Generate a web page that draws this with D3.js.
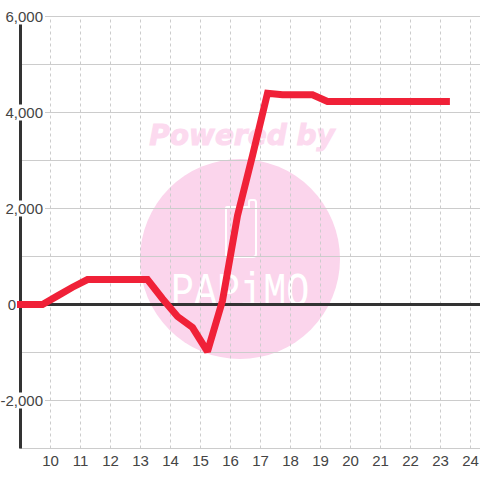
<!DOCTYPE html>
<html>
<head>
<meta charset="utf-8">
<script src="https://d3js.org/d3.v7.min.js"></script>
<style>
html, body { margin: 0; padding: 0; background: #fff; }
svg { display: block; }
text { font-family: "Liberation Sans", Arial, sans-serif; }
</style>
</head>
<body>
<svg id="chartSVG" width="480" height="480"></svg>
<script>
// hours on the x axis, and the value at each point of the line
const hours = [8.9, 9.75, 10.25, 10.75, 11.25, 11.75, 12.25, 12.75, 13.25, 13.75, 14.25, 14.75, 15.25, 15.75,
               16.25, 16.75, 17.25, 17.75, 18.25, 18.75, 19.25, 19.75, 20.25, 20.75, 21.25, 21.75, 22.25, 22.75, 23.33];
const values = [0, 0, 180, 360, 520, 520, 520, 520, 520, 120, -250, -480, -980, 80,
                1850, 3100, 4400, 4370, 4370, 4370, 4230, 4230, 4230, 4230, 4230, 4230, 4230, 4230, 4230];
const hourTicks = [10, 11, 12, 13, 14, 15, 16, 17, 18, 19, 20, 21, 22, 23, 24];
const gridTicks = [-3000, -2000, -1000, 0, 1000, 2000, 3000, 4000, 5000, 6000];
const labelTicks = [-2000, 0, 2000, 4000, 6000];

const svg = d3.select("#chartSVG");
const width = 480;
const textColour = "#444";

const xScale = d3.scaleLinear().domain([9, 24]).range([20, 470]);
const yScale = d3.scaleLinear().domain([-3000, 6000]).range([448.5, 16.5]);

// plain hyphen for negative labels, not the d3 default minus sign
const labelFormat = d3.formatLocale({
    decimal: ".", thousands: ",", grouping: [3], currency: ["", ""], minus: "-"
}).format(",");

// watermark sits under everything else
const mark = svg.append("g").attr("id", "watermark");
mark.append("circle")
    .attr("cx", 240).attr("cy", 259).attr("r", 100)
    .attr("fill", "#fbd5ec");
mark.append("text")
    .text("Powered by")
    .attr("x", 242).attr("y", 145)
    .attr("text-anchor", "middle")
    .attr("fill", "#fcdaef")
    .attr("stroke", "#fcdaef")
    .attr("stroke-width", 1)
    .style("font-family", "DejaVu Sans")
    .style("font-weight", "bold")
    .style("font-style", "italic")
    .style("font-size", "28px");
mark.append("path")
    .attr("d", "M226 208 Q226 207 227 207 L249 207 L249 202 Q249 200 251 200 L254 200 Q256 200 256 203 L256 254 Q256 257 253 257 L229 257 Q226 257 226 254 Z")
    .attr("fill", "none")
    .attr("stroke", "#fff")
    .attr("stroke-width", 2);
mark.append("text")
    .text("PAPiMO")
    .attr("transform", "translate(171,306) scale(0.8,1)")
    .attr("fill", "#fff")
    .style("font-family", "Liberation Mono")
    .style("font-size", "48px");

// vertical dashed grid
const xAxis = d3.axisBottom(xScale)
    .tickValues(hourTicks)
    .tickSize(-432)
    .tickPadding(7)
    .tickFormat(d3.format("d"));
const xGroup = svg.append("g")
    .attr("transform", "translate(0,448.5)")
    .call(xAxis);
xGroup.select(".domain").remove();
xGroup.selectAll("line")
    .attr("stroke", "#ccc")
    .attr("stroke-dasharray", "3,3");
xGroup.selectAll("text")
    .attr("fill", textColour)
    .style("font-size", "15px");

// horizontal grid
svg.append("g").selectAll("line")
    .data(gridTicks)
    .join("line")
    .attr("x1", 20).attr("x2", width)
    .attr("y1", d => yScale(d)).attr("y2", d => yScale(d))
    .attr("stroke", "#ccc");

// zero line and y axis line
svg.append("line")
    .attr("x1", 20).attr("x2", width)
    .attr("y1", yScale(0)).attr("y2", yScale(0))
    .attr("stroke", "#333").attr("stroke-width", 3);
svg.append("line")
    .attr("x1", 20.5).attr("x2", 20.5)
    .attr("y1", yScale(6000)).attr("y2", yScale(-3000))
    .attr("stroke", "#333").attr("stroke-width", 3);

// y labels have a white box behind them that cuts the axis line
const yLabels = svg.append("g").selectAll("g")
    .data(labelTicks)
    .join("g")
    .attr("transform", d => "translate(0," + yScale(d) + ")");
yLabels.filter(d => d !== 0).append("rect")
    .attr("x", 0).attr("y", -8).attr("width", 45).attr("height", 16)
    .attr("fill", "#fff");
yLabels.append("text")
    .text(d => labelFormat(d))
    .attr("x", d => d === 0 ? 16 : 43)
    .attr("dy", "0.35em")
    .attr("text-anchor", "end")
    .attr("fill", textColour)
    .style("font-size", "15px");

// the series line
const line = d3.line()
    .x((d, i) => xScale(hours[i]))
    .y(d => yScale(d));
svg.append("path")
    .datum(values)
    .attr("d", line)
    .attr("fill", "none")
    .attr("stroke", "#f02138")
    .attr("stroke-width", 7)
    .attr("stroke-linejoin", "miter")
    .attr("stroke-miterlimit", 2);
</script>
</body>
</html>
